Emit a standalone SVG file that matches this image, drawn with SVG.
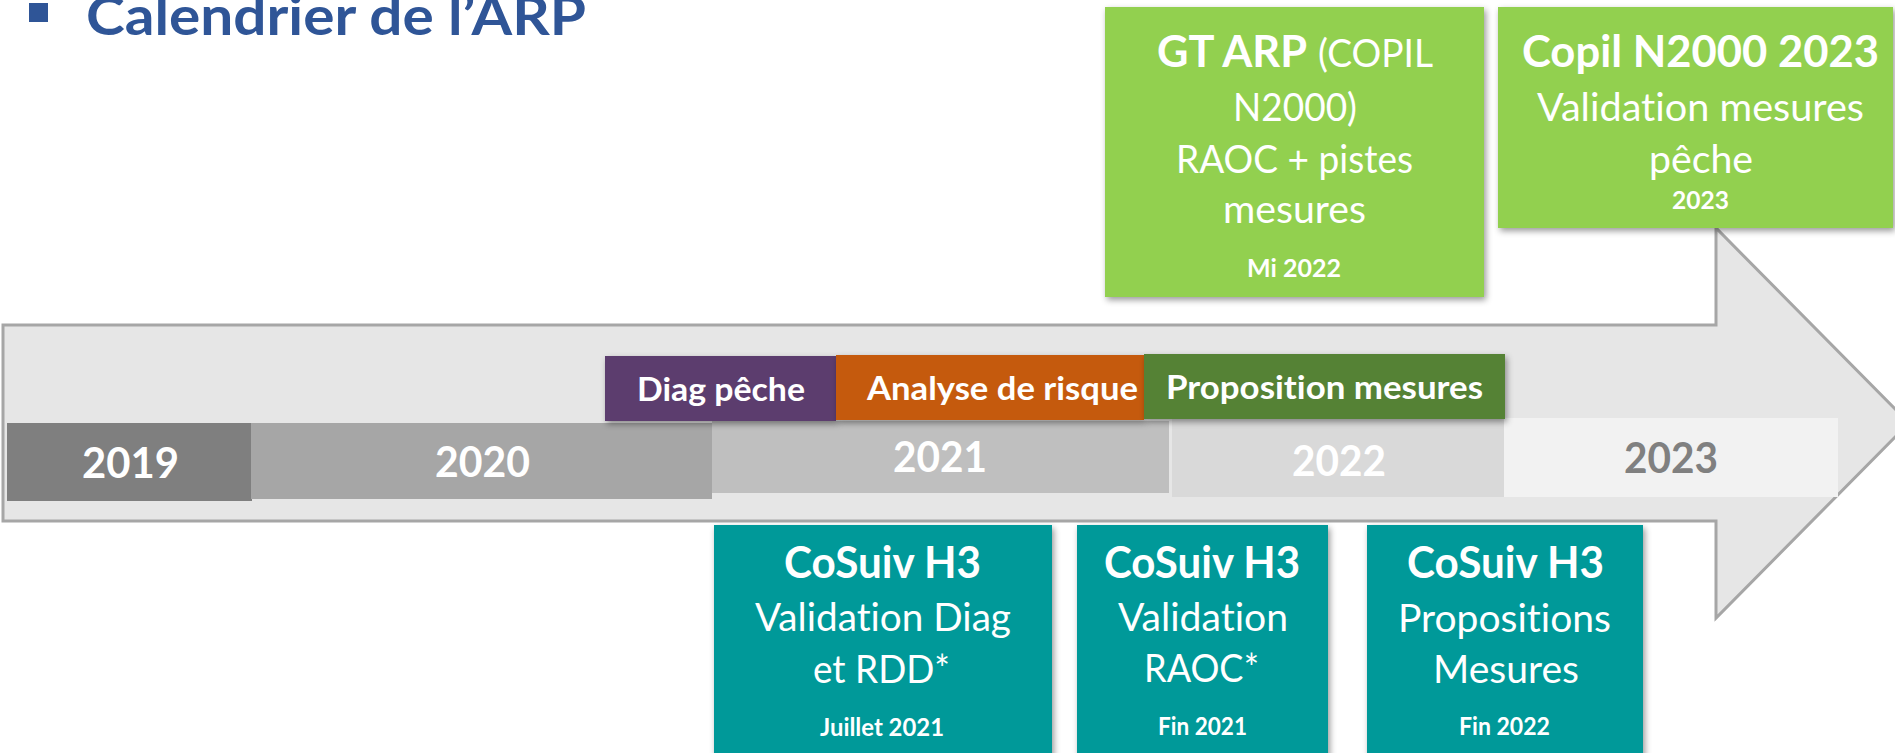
<svg xmlns="http://www.w3.org/2000/svg" width="1895" height="753" viewBox="0 0 1895 753">
<defs>
<filter id="sh" x="-10%" y="-10%" width="125%" height="130%">
<feDropShadow dx="2" dy="3" stdDeviation="3" flood-color="#000" flood-opacity="0.4"/>
</filter>
<style>
text{font-family:Lato,"Open Sans","Liberation Sans",sans-serif;fill:#fff;font-variant-ligatures:none;font-feature-settings:"liga" 0,"clig" 0}
.b{font-weight:bold}
.title{font-size:54px;fill:#2F5597;font-weight:bold}
.big{font-size:44px;font-weight:bold}
.reg{font-size:38px}
.sm{font-size:25px;font-weight:bold}
.yr{font-size:42px;font-weight:bold}
.bar{font-size:33px;font-weight:bold}
.green{fill:#92D050}
.teal{fill:#009999}
</style>
</defs>
<rect width="1895" height="753" fill="#fff"/>

<g id="title">
<rect x="29" y="3" width="19" height="19" fill="#2F5597"/>
<text class="title" x="86" y="35" textLength="500" lengthAdjust="spacingAndGlyphs">Calendrier de l’ARP</text>
</g>

<g id="timeline-arrow">
<polygon points="3,325 1716,325 1716,228 1909,423 1716,618 1716,521 3,521" fill="#E6E6E6" stroke="#A6A6A6" stroke-width="3" stroke-linejoin="miter"/>
</g>

<g id="year-2019">
<rect x="7" y="423" width="245" height="78" fill="#7F7F7F"/>
<text class="yr" x="82" y="478" textLength="97" lengthAdjust="spacingAndGlyphs">2019</text>
</g>
<g id="year-2020">
<rect x="251" y="423" width="461" height="76" fill="#A6A6A6"/>
<text class="yr" x="435" y="477" textLength="95" lengthAdjust="spacingAndGlyphs">2020</text>
</g>
<g id="year-2021">
<rect x="712" y="421" width="457" height="72" fill="#BFBFBF"/>
<text class="yr" x="893" y="472" textLength="94" lengthAdjust="spacingAndGlyphs">2021</text>
</g>
<g id="year-2022">
<rect x="1172" y="418" width="332" height="79" fill="#D9D9D9"/>
<text class="yr" x="1292" y="476" textLength="94" lengthAdjust="spacingAndGlyphs">2022</text>
</g>
<g id="year-2023">
<rect x="1504" y="418" width="334" height="79" fill="#F2F2F2"/>
<text class="yr" x="1624" y="473" textLength="94" lengthAdjust="spacingAndGlyphs" style="fill:#808080">2023</text>
</g>

<g id="diag-peche">
<rect x="605" y="356" width="231" height="65" fill="#5B3E6E" filter="url(#sh)"/>
<text class="bar" x="637" y="401" textLength="168" lengthAdjust="spacingAndGlyphs">Diag pêche</text>
</g>
<g id="analyse-risque">
<rect x="836" y="355" width="308" height="65" fill="#C55A11" filter="url(#sh)"/>
<text class="bar" x="867" y="400" textLength="271" lengthAdjust="spacingAndGlyphs">Analyse de risque</text>
</g>
<g id="proposition-mesures">
<rect x="1144" y="354" width="361" height="65" fill="#548235" filter="url(#sh)"/>
<text class="bar" x="1166" y="399" textLength="317" lengthAdjust="spacingAndGlyphs">Proposition mesures</text>
</g>

<g id="gt-arp">
<rect class="green" x="1105" y="7" width="379" height="290" filter="url(#sh)"/>
<text class="big" x="1157" y="67" textLength="150" lengthAdjust="spacingAndGlyphs">GT ARP</text>
<text class="reg" x="1318" y="67" textLength="115" lengthAdjust="spacingAndGlyphs">(COPIL</text>
<text class="reg" x="1233" y="121" textLength="124" lengthAdjust="spacingAndGlyphs">N2000)</text>
<text class="reg" x="1176" y="173" textLength="237" lengthAdjust="spacingAndGlyphs">RAOC + pistes</text>
<text class="reg" x="1223" y="223" textLength="143" lengthAdjust="spacingAndGlyphs">mesures</text>
<text class="sm" x="1247" y="277" textLength="94" lengthAdjust="spacingAndGlyphs">Mi 2022</text>
</g>

<g id="copil-2023">
<rect class="green" x="1498" y="7" width="395" height="221" filter="url(#sh)"/>
<text class="big" x="1522" y="67" textLength="357" lengthAdjust="spacingAndGlyphs">Copil N2000 2023</text>
<text class="reg" x="1537" y="121" textLength="327" lengthAdjust="spacingAndGlyphs">Validation mesures</text>
<text class="reg" x="1649" y="173" textLength="104" lengthAdjust="spacingAndGlyphs">pêche</text>
<text class="sm" x="1672" y="209" textLength="57" lengthAdjust="spacingAndGlyphs">2023</text>
</g>

<g id="cosuiv-juillet-2021">
<rect class="teal" x="714" y="525" width="338" height="240" filter="url(#sh)"/>
<text class="big" x="784" y="578" textLength="197" lengthAdjust="spacingAndGlyphs">CoSuiv H3</text>
<text class="reg" x="755" y="631" textLength="256" lengthAdjust="spacingAndGlyphs">Validation Diag</text>
<text class="reg" x="813" y="683" textLength="137" lengthAdjust="spacingAndGlyphs">et RDD*</text>
<text class="sm" x="820" y="736" textLength="124" lengthAdjust="spacingAndGlyphs">Juillet 2021</text>
</g>

<g id="cosuiv-fin-2021">
<rect class="teal" x="1077" y="525" width="251" height="240" filter="url(#sh)"/>
<text class="big" x="1104" y="578" textLength="196" lengthAdjust="spacingAndGlyphs">CoSuiv H3</text>
<text class="reg" x="1118" y="631" textLength="170" lengthAdjust="spacingAndGlyphs">Validation</text>
<text class="reg" x="1144" y="682" textLength="115" lengthAdjust="spacingAndGlyphs">RAOC*</text>
<text class="sm" x="1158" y="735" textLength="89" lengthAdjust="spacingAndGlyphs">Fin 2021</text>
</g>

<g id="cosuiv-fin-2022">
<rect class="teal" x="1367" y="525" width="276" height="240" filter="url(#sh)"/>
<text class="big" x="1407" y="578" textLength="197" lengthAdjust="spacingAndGlyphs">CoSuiv H3</text>
<text class="reg" x="1398" y="632" textLength="213" lengthAdjust="spacingAndGlyphs">Propositions</text>
<text class="reg" x="1433" y="683" textLength="146" lengthAdjust="spacingAndGlyphs">Mesures</text>
<text class="sm" x="1459" y="735" textLength="91" lengthAdjust="spacingAndGlyphs">Fin 2022</text>
</g>
</svg>
